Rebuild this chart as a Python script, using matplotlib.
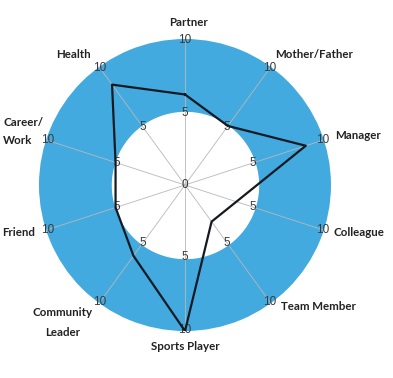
import numpy as np
import matplotlib
matplotlib.use("Agg")
import matplotlib.pyplot as plt

# axes, clockwise from the top
roles = ["Partner", "Mother/Father", "Manager", "Colleague", "Team Member",
         "Sports Player", "Community\nLeader", "Friend", "Career/\nWork", "Health"]
scores = [6.2, 5, 8.7, 3.7, 3.1, 10, 6, 5, 5, 8.5]

blue = "#42aadf"
ink = "#222222"

fig = plt.figure(figsize=(3.93, 3.78), dpi=100)
ax = fig.add_axes([0.0992, 0.1243, 0.743, 0.7725], projection="polar")
ax.set_theta_offset(np.pi / 2)
ax.set_theta_direction(-1)
ax.set_ylim(0, 10)
ax.set_facecolor(blue)
ax.spines["polar"].set_visible(False)

n = len(roles)
angles = np.arange(n) * 2 * np.pi / n

# white inner disc, 0..5
t = np.linspace(0, 2 * np.pi, 361)
ax.fill_between(t, 0, 5, color="white", zorder=0)

# radial spokes
ax.set_xticks(angles)
ax.set_xticklabels([])
ax.set_yticks([])
ax.xaxis.grid(True, color="#b8b8b8", linewidth=0.6)
ax.yaxis.grid(False)

# value ticks along each spoke
for a in angles:
    for v in (5, 10):
        ax.text(a, v - 0.1, str(v), ha="center", va="center", fontsize=8.5,
                family="Liberation Sans", color="#3a3a3a", zorder=3)
ax.text(0, 0, "0", ha="center", va="center", fontsize=8.5,
        family="Liberation Sans", color="#3a3a3a", zorder=3)

# the profile line
ax.plot(np.append(angles, angles[0]), scores + scores[:1],
        color="#151a22", linewidth=1.6, zorder=4)

# category labels (figure pixel positions); two-line ones drawn line by line
label_pos = {
    "Partner": (188, 23, "center"),
    "Mother/Father": (275, 55, "left"),
    "Manager": (335, 135, "left"),
    "Colleague": (334, 232, "left"),
    "Team Member": (281, 306, "left"),
    "Sports Player": (185, 346, "center"),
    "Community\nLeader": (63, 313, "center"),
    "Friend": (35, 232, "right"),
    "Career/\nWork": (3, 122, "left"),
    "Health": (73, 54, "center"),
}
for name in roles:
    x, y, ha = label_pos[name]
    for i, line in enumerate(name.split("\n")):
        fig.text(x / 393, 1 - (y + 19 * i) / 378, line, ha=ha, va="center",
                 fontsize=8.3, family="Lato", fontweight="bold", color=ink)

fig.savefig("out.png", dpi=100)
